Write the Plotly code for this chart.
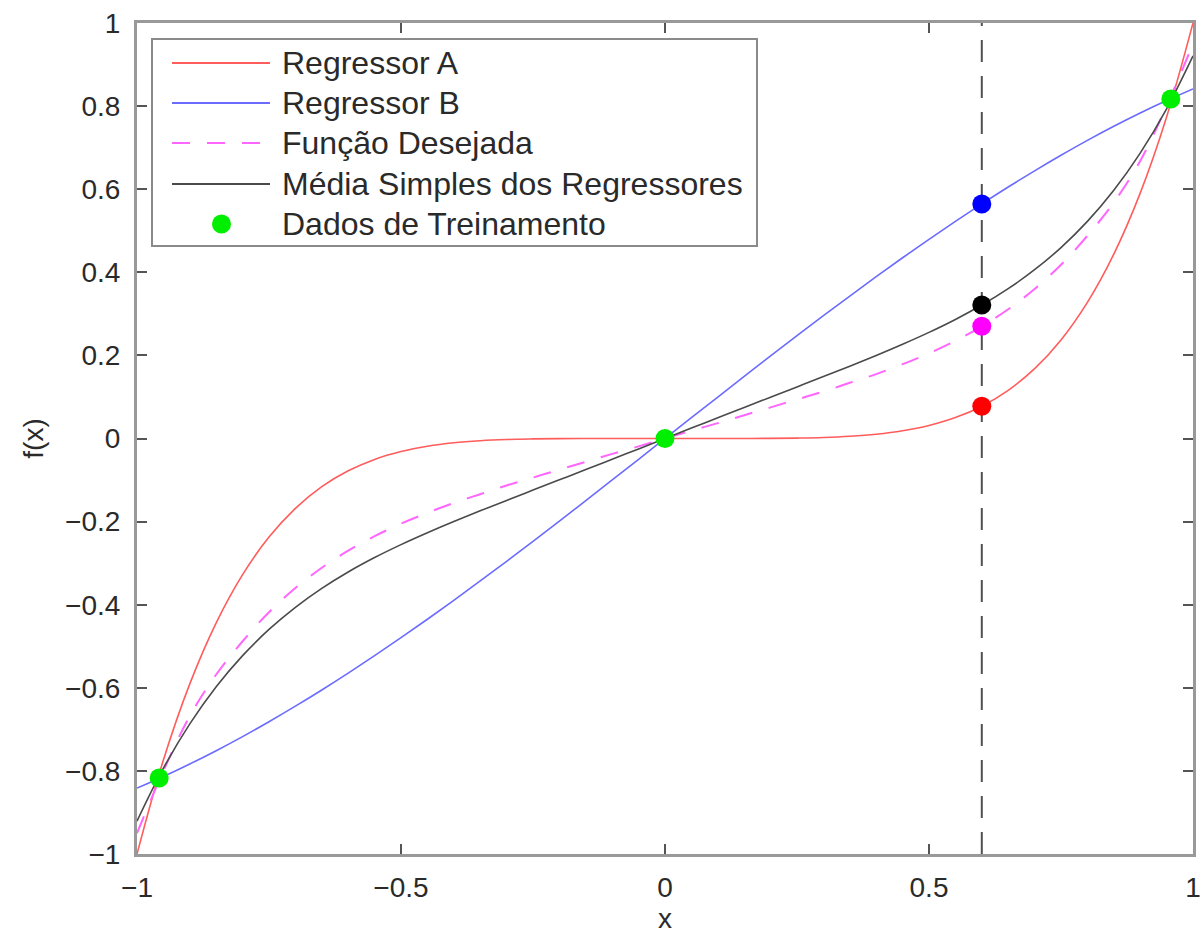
import plotly.graph_objects as go

# ---------------- data ----------------
x_vals = [-1.00, -0.95, -0.90, -0.85, -0.80, -0.75, -0.70, -0.65, -0.60, -0.55,
          -0.50, -0.45, -0.40, -0.35, -0.30, -0.25, -0.20, -0.15, -0.10, -0.05,
          0.00, 0.05, 0.10, 0.15, 0.20, 0.25, 0.30, 0.35, 0.40, 0.45,
          0.50, 0.55, 0.60, 0.65, 0.70, 0.75, 0.80, 0.85, 0.90, 0.95, 1.00]

regressor_a = [-1.0000, -0.7738, -0.5905, -0.4437, -0.3277, -0.2373, -0.1681, -0.1160, -0.0778, -0.0503,
               -0.0313, -0.0185, -0.0102, -0.0053, -0.0024, -0.0010, -0.0003, -0.0001, 0.0000, 0.0000,
               0.0000, 0.0000, 0.0000, 0.0001, 0.0003, 0.0010, 0.0024, 0.0053, 0.0102, 0.0185,
               0.0313, 0.0503, 0.0778, 0.1160, 0.1681, 0.2373, 0.3277, 0.4437, 0.5905, 0.7738, 1.0000]

regressor_b = [-0.8415, -0.8134, -0.7833, -0.7513, -0.7174, -0.6816, -0.6442, -0.6052, -0.5646, -0.5227,
               -0.4794, -0.4350, -0.3894, -0.3429, -0.2955, -0.2474, -0.1987, -0.1494, -0.0998, -0.0500,
               0.0000, 0.0500, 0.0998, 0.1494, 0.1987, 0.2474, 0.2955, 0.3429, 0.3894, 0.4350,
               0.4794, 0.5227, 0.5646, 0.6052, 0.6442, 0.6816, 0.7174, 0.7513, 0.7833, 0.8134, 0.8415]

desired = [-0.950, -0.800, -0.668, -0.568, -0.488, -0.418, -0.360, -0.311, -0.270, -0.235,
           -0.205, -0.179, -0.155, -0.134, -0.113, -0.094, -0.075, -0.056, -0.037, -0.019,
           0.000, 0.019, 0.037, 0.056, 0.075, 0.094, 0.113, 0.134, 0.155, 0.179,
           0.205, 0.235, 0.270, 0.311, 0.360, 0.418, 0.488, 0.568, 0.668, 0.800, 0.950]

mean_regressors = [-0.9208, -0.7936, -0.6869, -0.5975, -0.5226, -0.4595, -0.4062, -0.3606, -0.3212, -0.2865,
                   -0.2554, -0.2268, -0.1998, -0.1741, -0.1490, -0.1242, -0.0995, -0.0748, -0.0499, -0.0250,
                   0.0000, 0.0250, 0.0499, 0.0748, 0.0995, 0.1242, 0.1490, 0.1741, 0.1998, 0.2268,
                   0.2554, 0.2865, 0.3212, 0.3606, 0.4062, 0.4595, 0.5226, 0.5975, 0.6869, 0.7936, 0.9208]

x_train = [-0.958, 0.0, 0.958]
y_train = [-0.817, 0.0, 0.817]

x_query = 0.6
query_a = 0.0778
query_b = 0.5646
query_mean = 0.3212
query_desired = 0.270

legend_labels = ["Regressor A", "Regressor B", "Função Desejada",
                 "Média Simples dos Regressores", "Dados de Treinamento"]

# ---------------- styles ----------------
C_RED = "#ff5c5c"
C_BLUE = "#6b6bff"
C_MAG = "#ff66ff"
C_BLACK = "#4a4a4a"
C_GREEN = "#00ee00"
MAG_DASH = "18px,17px"
FONT = "Liberation Sans, Arial, sans-serif"
TXT = "#2a2a2a"

W, H = 1202, 935
L, R, T, B = 137, 1193, 23, 854


def px(v):
    return (v - L) / (R - L)


def py(v):
    return (B - v) / (B - T)


fig = go.Figure()

# vertical dashed line at the query point
fig.add_trace(go.Scatter(x=[x_query, x_query], y=[-1, 1], mode="lines",
                         line=dict(color="#505050", width=2, dash="22px,14px"),
                         showlegend=False, hoverinfo="skip"))

fig.add_trace(go.Scatter(x=x_vals, y=regressor_a, mode="lines", name=legend_labels[0],
                         line=dict(color=C_RED, width=1.6, shape="spline")))
fig.add_trace(go.Scatter(x=x_vals, y=regressor_b, mode="lines", name=legend_labels[1],
                         line=dict(color=C_BLUE, width=1.6, shape="spline")))
fig.add_trace(go.Scatter(x=x_vals, y=desired, mode="lines", name=legend_labels[2],
                         line=dict(color=C_MAG, width=2, dash=MAG_DASH, shape="spline")))
fig.add_trace(go.Scatter(x=x_vals, y=mean_regressors, mode="lines", name=legend_labels[3],
                         line=dict(color=C_BLACK, width=1.6, shape="spline")))

# training data
fig.add_trace(go.Scatter(x=x_train, y=y_train, mode="markers", name=legend_labels[4],
                         marker=dict(color=C_GREEN, size=19, line=dict(width=0))))

# query markers
fig.add_trace(go.Scatter(x=[x_query] * 4, y=[query_b, query_mean, query_desired, query_a],
                         mode="markers", showlegend=False,
                         marker=dict(color=["#0000ff", "#000000", "#ff00ff", "#ff0000"],
                                     size=19, line=dict(width=0))))

axis_common = dict(
    range=[-1, 1], showgrid=False, zeroline=False, automargin=False,
    showline=True, linecolor="#999999", linewidth=3, mirror="allticks",
    ticks="inside", ticklen=10, tickwidth=1.5, tickcolor="#555555",
    tickfont=dict(family=FONT, size=28, color=TXT),
)

fig.update_xaxes(**axis_common, tick0=-1, dtick=0.5, ticklabelstandoff=6,
                 title=dict(text="x", font=dict(family=FONT, size=28, color=TXT), standoff=4))
fig.update_yaxes(**axis_common, tick0=-1, dtick=0.2, ticklabelstandoff=8,
                 title=dict(text="f(x)", font=dict(family=FONT, size=28, color=TXT), standoff=14))

# ---------------- manual legend ----------------
shapes = [dict(type="rect", xref="paper", yref="paper",
               x0=px(152), x1=px(757), y0=py(246), y1=py(39),
               line=dict(color="#8a8a8a", width=2), fillcolor="white", layer="above")]
rows = [63, 103, 143, 184, 224]
line_styles = [(C_RED, "solid", 2), (C_BLUE, "solid", 2), (C_MAG, MAG_DASH, 2), (C_BLACK, "solid", 2)]
for ry, (col, dsh, wd) in zip(rows[:4], line_styles):
    shapes.append(dict(type="line", xref="paper", yref="paper",
                       x0=px(172), x1=px(270), y0=py(ry), y1=py(ry),
                       line=dict(color=col, width=wd, dash=dsh), layer="above"))
shapes.append(dict(type="circle", xref="paper", yref="paper",
                   x0=px(212), x1=px(231), y0=py(rows[4] + 9.5), y1=py(rows[4] - 9.5),
                   fillcolor=C_GREEN, line=dict(width=0), layer="above"))

annotations = []
for ry, lab in zip(rows, legend_labels):
    annotations.append(dict(text=lab, xref="paper", yref="paper", x=px(280), y=py(ry),
                            xanchor="left", yanchor="middle", showarrow=False,
                            font=dict(family=FONT, size=32, color=TXT)))

fig.update_layout(
    width=W, height=H,
    margin=dict(l=L, r=W - R, t=T, b=H - B, pad=0),
    paper_bgcolor="white", plot_bgcolor="white",
    showlegend=False, shapes=shapes, annotations=annotations,
    font=dict(family=FONT),
)

fig.write_html("out.html")
